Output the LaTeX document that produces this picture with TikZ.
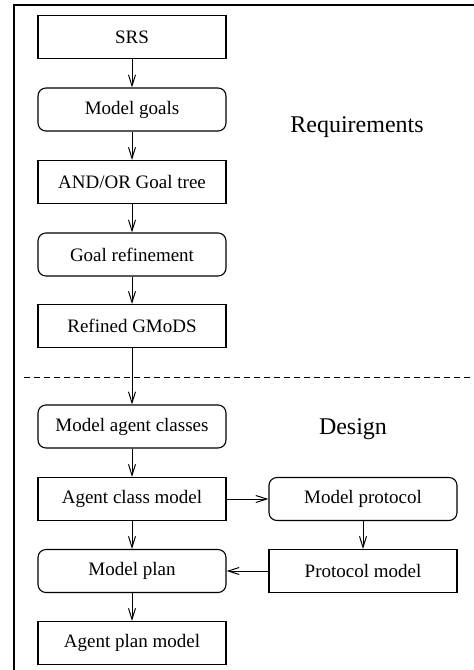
\documentclass[tikz,border=0pt]{standalone}
\usepackage{fontspec}
\setmainfont{Liberation Serif}
\usetikzlibrary{arrows.meta}
\begin{document}
\begin{tikzpicture}[x=0.5pt,y=-0.5pt,
  line width=0.55pt,
  sqbox/.style={draw, rectangle, minimum width=94pt, minimum height=21.5pt, inner sep=0pt, font=\fontsize{9.5}{11}\selectfont},
  rbox/.style={sqbox, rounded corners=4pt},
  lbl/.style={font=\fontsize{12}{14}\selectfont, anchor=base, inner sep=0pt},
  flow/.style={-{Straight Barb[length=5.5pt,width=3.5pt]}, line width=0.5pt}]
\useasboundingbox (0,0) rectangle (474,670);
% frame
\draw[line width=0.6pt] (14,670) -- (14,5) -- (474,5);
% dashed separator
\draw[dashed, dash pattern=on 3pt off 2pt, line width=0.5pt] (24,377) -- (474,377);
% nodes
\node[sqbox] (srs) at (132,37) {SRS};
\node[rbox] (mg) at (132,109.5) {Model goals};
\node[sqbox] (gt) at (132,182) {AND/OR Goal tree};
\node[rbox] (gr) at (132,254.5) {Goal refinement};
\node[sqbox] (rg) at (132,326) {Refined GMoDS};
\node[rbox] (mac) at (132,426.5) {Model agent classes};
\node[sqbox] (acm) at (132,499) {Agent class model};
\node[rbox] (mp) at (132,571) {Model plan};
\node[sqbox] (apm) at (132,643) {Agent plan model};
\node[rbox] (mpr) at (363,499) {Model protocol};
\node[sqbox] (pm) at (363,571) {Protocol model};
% labels
\node[lbl] (req) at (357,132) {Requirements};
\node[lbl] (des) at (353,434) {Design};
% connectors
\draw[flow] (srs) -- (mg);
\draw[flow] (mg) -- (gt);
\draw[flow] (gt) -- (gr);
\draw[flow] (gr) -- (rg);
\draw[flow] (rg) -- (mac);
\draw[flow] (mac) -- (acm);
\draw[flow] (acm) -- (mp);
\draw[flow] (mp) -- (apm);
\draw[flow] (acm) -- (mpr);
\draw[flow] (mpr) -- (pm);
\draw[flow] (pm) -- (mp);
\end{tikzpicture}
\end{document}
